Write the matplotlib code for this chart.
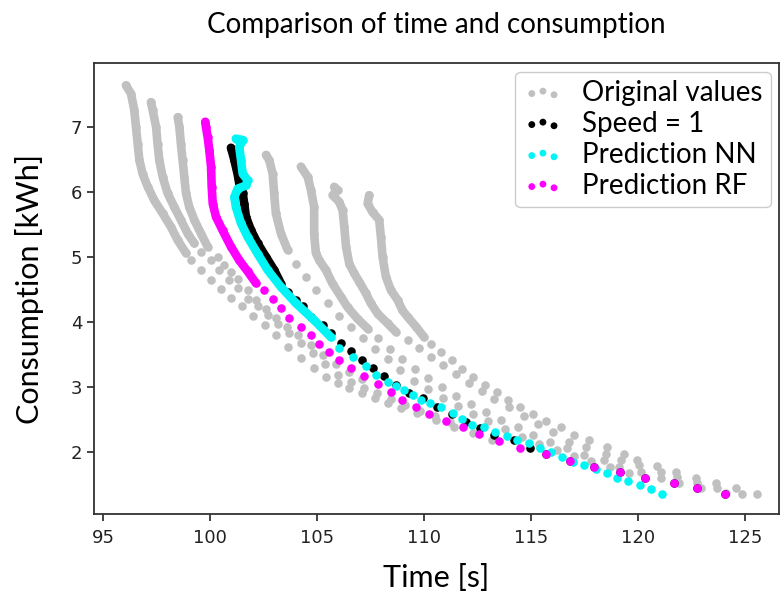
import matplotlib
matplotlib.use("Agg")
import matplotlib.pyplot as plt

# ---------------- data (time [s], consumption [kWh]) ----------------
# gray "original values" curves: dense upper part + dotted tail
g1_dense_t = [96.07, 96.31, 96.46, 96.54, 96.62, 96.70, 96.85, 97.09, 97.40, 97.79, 98.18, 98.49, 98.88]
g1_dense_c = [7.64, 7.51, 7.26, 7.00, 6.74, 6.49, 6.28, 6.08, 5.87, 5.67, 5.46, 5.26, 5.06]
g1_tail_t = [99.10, 99.58, 100.05, 100.50, 101.00, 101.50, 102.00, 102.55, 103.10, 103.65, 104.25, 104.86,
             105.42, 106.00, 106.50, 107.10, 107.70, 108.30, 108.95, 109.70, 110.56, 111.40, 112.30, 113.20]
g1_tail_c = [4.95, 4.80, 4.65, 4.51, 4.37, 4.24, 4.10, 3.96, 3.80, 3.62, 3.45, 3.29,
             3.16, 3.06, 2.99, 2.91, 2.84, 2.76, 2.68, 2.60, 2.49, 2.39, 2.29, 2.19]

g2_dense_t = [97.24, 97.32, 97.48, 97.55, 97.63, 97.79, 98.02, 98.33, 98.64, 98.96, 99.27]
g2_dense_c = [7.38, 7.26, 7.00, 6.74, 6.49, 6.23, 5.98, 5.77, 5.57, 5.36, 5.21]
g2_tail_t = [99.58, 100.05, 100.43, 100.90, 101.29, 101.76, 102.23, 102.70, 103.20, 103.70, 104.25, 104.80,
             105.40, 106.00, 106.60, 107.20, 107.80, 108.45, 109.10, 109.80, 110.50, 111.20]
g2_tail_c = [5.08, 4.95, 4.80, 4.65, 4.52, 4.36, 4.24, 4.11, 3.97, 3.83, 3.68, 3.52,
             3.35, 3.19, 3.08, 2.99, 2.91, 2.82, 2.73, 2.64, 2.55, 2.46]

g3_dense_t = [98.49, 98.57, 98.64, 98.72, 98.80, 98.88, 99.03, 99.27, 99.58, 99.89]
g3_dense_c = [7.15, 7.00, 6.74, 6.49, 6.23, 5.98, 5.77, 5.57, 5.36, 5.16]
g3_tail_t = [100.36, 100.67, 100.98, 101.29, 101.76, 102.15, 102.60, 103.10, 103.60, 104.10, 104.70,
             105.30, 105.90, 106.50, 107.10]
g3_tail_c = [5.00, 4.88, 4.77, 4.67, 4.49, 4.34, 4.20, 4.06, 3.93, 3.80, 3.65,
             3.50, 3.36, 3.24, 3.13]

g4_dense_t = [102.62, 102.77, 102.93, 103.00, 103.08, 103.32, 103.63]
g4_dense_c = [6.57, 6.49, 6.28, 5.98, 5.67, 5.36, 5.11]
g4_tail_t = [104.02, 104.49, 104.95, 105.50, 106.05, 106.60, 107.15, 107.70, 108.30, 108.90, 109.55, 110.20,
             110.90, 111.60, 112.30, 113.00, 113.80, 114.60, 115.40, 116.20, 117.00, 117.80, 118.70, 119.60]
g4_tail_c = [4.90, 4.70, 4.49, 4.29, 4.10, 3.92, 3.75, 3.59, 3.43, 3.27, 3.10, 2.97,
             2.84, 2.71, 2.59, 2.48, 2.36, 2.24, 2.13, 2.03, 1.94, 1.86, 1.77, 1.68]

g5_dense_t = [104.25, 104.57, 104.72, 104.87, 104.87, 104.95, 105.11, 105.42, 105.73, 106.12, 106.43, 106.90,
              107.37]
g5_dense_c = [6.39, 6.23, 6.03, 5.77, 5.36, 5.06, 4.95, 4.80, 4.59, 4.39, 4.23, 4.05,
              3.90]
g5_tail_t = [107.84, 108.40, 109.00, 109.60, 110.20, 110.85, 111.50, 112.20, 112.90,
             113.60, 114.40, 115.10, 115.90, 116.71, 117.49, 118.43, 119.13, 120.14, 121.07, 121.93, 122.94,
             124.11]
g5_tail_c = [3.75, 3.59, 3.43, 3.28, 3.14, 3.00, 2.87, 2.74, 2.62,
             2.50, 2.38, 2.27, 2.16, 2.06, 1.96, 1.88, 1.78, 1.70, 1.60, 1.52, 1.45,
             1.37]

g6_dense_t = [105.81, 105.97, 105.73, 106.04, 106.20, 106.28, 106.36, 106.51, 106.74, 106.98, 107.29, 107.52,
              107.84, 108.30, 108.69]
g6_dense_c = [6.08, 6.03, 5.95, 5.85, 5.72, 5.46, 5.16, 4.90, 4.75, 4.62, 4.44, 4.29,
              4.13, 3.98, 3.85]
g6_tail_t = [109.24, 109.78, 110.35, 110.90, 111.50, 112.10, 112.70, 113.30, 114.00,
             114.70, 115.35, 116.05, 116.79, 117.57, 118.50, 119.20, 120.06, 121.07, 121.85, 122.79, 123.72,
             124.89]
g6_tail_c = [3.72, 3.60, 3.47, 3.34, 3.20, 3.07, 2.94, 2.82, 2.69,
             2.56, 2.44, 2.31, 2.16, 2.08, 1.98, 1.88, 1.80, 1.70, 1.62, 1.52, 1.45,
             1.36]

g7_dense_t = [107.44, 107.37, 107.60, 107.91, 107.99, 108.07, 108.22, 108.46, 108.77, 109.00, 109.24, 109.63,
              110.01]
g7_dense_c = [5.95, 5.82, 5.69, 5.57, 5.31, 5.00, 4.70, 4.49, 4.34, 4.18, 4.08, 3.93,
              3.77]
g7_tail_t = [110.35, 110.80, 111.30, 111.80, 112.30, 112.85, 113.40,
             113.95, 114.50, 115.10, 115.70, 116.40, 117.02, 117.72, 118.58, 119.36, 119.98, 120.92, 121.78,
             122.71, 123.64, 124.58, 125.59]
g7_tail_c = [3.66, 3.54, 3.41, 3.28, 3.15, 3.03, 2.92,
             2.80, 2.69, 2.58, 2.48, 2.38, 2.27, 2.18, 2.08, 1.97, 1.88, 1.79, 1.70,
             1.61, 1.53, 1.45, 1.36]

# Speed = 1
spd_dense_t = [100.98, 101.06, 101.14, 101.29, 101.37, 101.53, 101.60, 101.68, 101.92, 102.23, 102.62, 103.00, 103.32]
spd_dense_c = [6.68, 6.59, 6.49, 6.28, 6.13, 5.98, 5.82, 5.62, 5.41, 5.21, 5.00, 4.80, 4.59]
spd_tail_t = [103.63, 104.02, 104.33, 104.72, 105.27, 105.65, 106.12, 106.59, 107.10, 107.60, 108.14, 108.69,
              109.31, 109.98, 110.61, 111.30, 111.96, 112.64, 113.29, 114.22, 114.97, 115.70, 116.83, 117.93,
              119.17, 120.34, 121.67, 122.76, 124.08]
spd_tail_c = [4.47, 4.34, 4.24, 4.08, 3.95, 3.83, 3.68, 3.55, 3.42, 3.30, 3.17, 3.04,
              2.91, 2.83, 2.70, 2.58, 2.47, 2.37, 2.26, 2.18, 2.07, 1.97, 1.87, 1.78,
              1.70, 1.61, 1.53, 1.45, 1.36]

# Prediction NN
nn_dense_t = [101.21, 101.53, 101.37, 101.45, 101.53, 101.76, 101.68, 101.29, 101.14, 101.21, 101.45, 101.76,
              102.23, 102.70, 103.32, 104.02, 104.87, 105.65]
nn_dense_c = [6.82, 6.80, 6.69, 6.49, 6.28, 6.18, 6.10, 6.05, 5.92, 5.77, 5.52, 5.31,
              5.05, 4.80, 4.54, 4.29, 4.03, 3.77]
nn_tail_t = [106.04, 106.67, 107.29, 107.76, 108.30, 108.70, 109.08, 109.50, 109.86, 110.30, 110.79, 111.34,
             111.80, 112.27, 112.82, 113.32, 113.88, 114.35, 114.92, 115.44, 115.93, 116.45, 116.99, 117.49,
             118.04, 118.55, 119.05, 119.56, 120.11, 120.61, 121.15]
nn_tail_c = [3.60, 3.47, 3.32, 3.19, 3.08, 3.02, 2.96, 2.88, 2.80, 2.75, 2.70, 2.60,
             2.51, 2.42, 2.38, 2.31, 2.25, 2.19, 2.14, 2.06, 2.00, 1.93, 1.85, 1.80,
             1.74, 1.68, 1.61, 1.56, 1.50, 1.43, 1.36]

# Prediction RF
rf_dense_t = [99.78, 99.81, 99.89, 99.97, 100.05, 100.08, 100.13, 100.28, 100.59, 100.98, 101.37, 101.76, 102.15]
rf_dense_c = [7.08, 7.00, 6.85, 6.64, 6.39, 6.08, 5.82, 5.62, 5.41, 5.16, 4.95, 4.78, 4.60]
rf_tail_t = [102.54, 102.93, 103.32, 103.71, 104.25, 104.72, 105.11, 105.58, 106.04, 106.59, 107.21, 107.84,
             108.46, 109.00, 109.63, 110.25, 111.03, 111.81, 112.59, 113.52, 114.50, 115.70, 116.83, 117.93,
             119.17, 120.34, 121.67, 122.76, 124.08]
rf_tail_c = [4.49, 4.36, 4.21, 4.06, 3.93, 3.80, 3.67, 3.54, 3.42, 3.29, 3.17, 3.05,
             2.93, 2.81, 2.70, 2.59, 2.48, 2.38, 2.28, 2.17, 2.07, 1.97, 1.87, 1.78,
             1.70, 1.61, 1.53, 1.45, 1.36]

x_ticks = [95, 100, 105, 110, 115, 120, 125]
y_ticks = [2, 3, 4, 5, 6, 7]

# ---------------- drawing ----------------
GRAY = "#c0c0c0"
BLACK = "#000000"
CYAN = "#00f5f5"
MAGENTA = "#ff00ff"
S = 38          # scatter size (pt^2)
LW = 6.2        # width of the dense parts

fig = plt.figure(figsize=(7.81, 5.99), dpi=100)
ax = fig.add_axes([0.1204, 0.1419, 0.877, 0.7526])

label_font = ["Lato", "DejaVu Sans"]

gray_dense = [(g1_dense_t, g1_dense_c), (g2_dense_t, g2_dense_c), (g3_dense_t, g3_dense_c),
              (g4_dense_t, g4_dense_c), (g5_dense_t, g5_dense_c), (g6_dense_t, g6_dense_c),
              (g7_dense_t, g7_dense_c)]
gray_tail = [(g1_tail_t, g1_tail_c), (g2_tail_t, g2_tail_c), (g3_tail_t, g3_tail_c),
             (g4_tail_t, g4_tail_c), (g5_tail_t, g5_tail_c), (g6_tail_t, g6_tail_c),
             (g7_tail_t, g7_tail_c)]


def draw(dense, tails, color, z, label):
    first = True
    for (dt, dc), (tt, tc) in zip(dense, tails):
        ax.plot(dt, dc, color=color, lw=LW, solid_capstyle="round", solid_joinstyle="round", zorder=z)
        ax.scatter(dt + tt, dc + tc, s=S, color=color, linewidths=0, zorder=z,
                   label=label if first else None)
        first = False


draw(gray_dense, gray_tail, GRAY, 2, "Original values")
draw([(spd_dense_t, spd_dense_c)], [(spd_tail_t, spd_tail_c)], BLACK, 3, "Speed = 1")
draw([(nn_dense_t, nn_dense_c)], [(nn_tail_t, nn_tail_c)], CYAN, 4, "Prediction NN")
draw([(rf_dense_t, rf_dense_c)], [(rf_tail_t, rf_tail_c)], MAGENTA, 5, "Prediction RF")

ax.set_xlim(94.58, 126.6)
ax.set_ylim(1.05, 7.98)
ax.set_xticks(x_ticks)
ax.set_yticks(y_ticks)
ax.tick_params(labelsize=13, length=5, width=1.2, colors="#222222")
ax.tick_params(axis="x", pad=6)
for sp in ax.spines.values():
    sp.set_linewidth(1.3)
    sp.set_color("#333333")

ax.set_title("Comparison of time and consumption", fontsize=20, family=label_font, pad=22)
ax.set_xlabel("Time [s]", fontsize=22, family=label_font, labelpad=12)
ax.set_ylabel("Consumption [kWh]", fontsize=22, family=label_font, labelpad=19)

leg = ax.legend(loc="upper right", prop={"family": label_font, "size": 20},
                frameon=True, fancybox=True, edgecolor="#cccccc", framealpha=1,
                scatterpoints=3, markerscale=0.8,
                borderpad=0.3, labelspacing=0.18, handletextpad=0.7, handlelength=1.4,
                borderaxespad=0.3, bbox_to_anchor=(1.0, 1.0))

fig.savefig("out.png", dpi=100)
